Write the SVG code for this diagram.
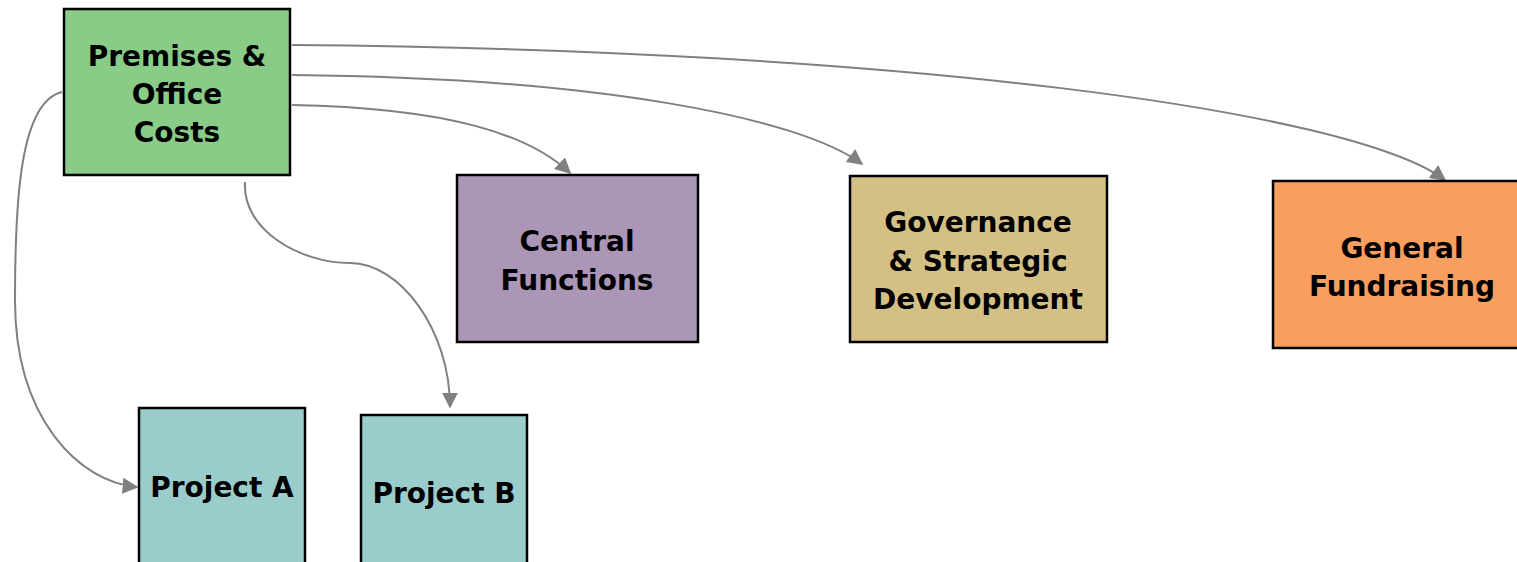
<svg xmlns="http://www.w3.org/2000/svg" width="1517" height="562" viewBox="0 0 1517 562">
<style>
.box{stroke:#000;stroke-width:2.5}
.t{font-family:"DejaVu Sans",Verdana,sans-serif;font-weight:bold;font-size:28px;fill:#000;text-anchor:middle}
.c{fill:none;stroke:#808080;stroke-width:2}
</style>
<defs>
<marker id="ah" viewBox="0 0 10 10" refX="9" refY="5" markerWidth="8" markerHeight="8" markerUnits="strokeWidth" orient="auto">
<path d="M0,0 L10,5 L0,10 z" fill="#808080"/>
</marker>
</defs>
<rect width="1517" height="562" fill="#fff"/>
<g id="connectors">
<path class="c" marker-end="url(#ah)" d="M62,92 C20,102 15,200 15,300 C15,420 80,482 137,487"/>
<path class="c" marker-end="url(#ah)" d="M245,182 C242,230 300,263 350,263 C400,263 450,330 450,407"/>
<path class="c" marker-end="url(#ah)" d="M292,105 C450,108 530,135 570,173"/>
<path class="c" marker-end="url(#ah)" d="M292,75 C600,78 800,118 862,164"/>
<path class="c" marker-end="url(#ah)" d="M292,45 C900,50 1350,110 1445,180"/>
</g>
<g id="premises">
<rect class="box" x="64" y="9" width="226" height="166" fill="#88cc88"/>
<text class="t" x="177" y="66">Premises &amp;</text>
<text class="t" x="177" y="104">Office</text>
<text class="t" x="177" y="142">Costs</text>
</g>
<g id="central">
<rect class="box" x="457" y="175" width="241" height="167" fill="#ab96b8"/>
<text class="t" x="577" y="251">Central</text>
<text class="t" x="577" y="290">Functions</text>
</g>
<g id="governance">
<rect class="box" x="850" y="176" width="257" height="166" fill="#d4bf84"/>
<text class="t" x="978" y="232">Governance</text>
<text class="t" x="978" y="271">&amp; Strategic</text>
<text class="t" x="978" y="309">Development</text>
</g>
<g id="fundraising">
<rect class="box" x="1273" y="181" width="250" height="167" fill="#f89e5e"/>
<text class="t" x="1402" y="258">General</text>
<text class="t" x="1402" y="296">Fundraising</text>
</g>
<g id="projectA">
<rect class="box" x="139" y="408" width="166" height="160" fill="#9acccc"/>
<text class="t" x="222" y="497">Project A</text>
</g>
<g id="projectB">
<rect class="box" x="361" y="415" width="166" height="160" fill="#9acccc"/>
<text class="t" x="444" y="503">Project B</text>
</g>
</svg>
